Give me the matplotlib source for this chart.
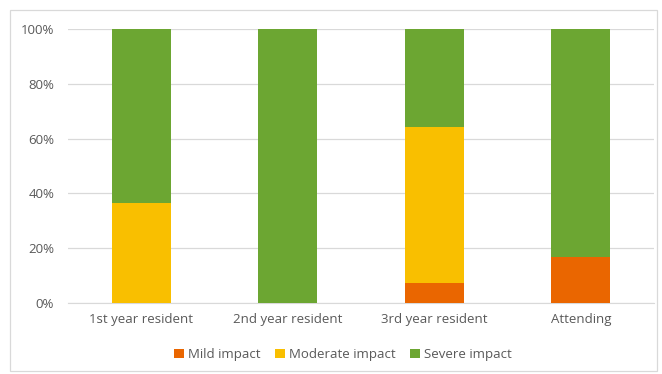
import numpy as np
import matplotlib.pyplot as plt
from matplotlib.patches import Rectangle
from matplotlib.ticker import PercentFormatter

# 데이터
categories = ['1st year resident', '2nd year resident', '3rd year resident', 'Attending']
mild = [0.0, 0.0, 7.1, 16.7]
moderate = [36.4, 0.0, 57.1, 0.0]
severe = [63.6, 100.0, 35.8, 83.3]
series_names = ['Mild impact', 'Moderate impact', 'Severe impact']
colors = ['#EA6600', '#F9BF00', '#6CA632']

plt.rcParams['font.family'] = ['Open Sans', 'DejaVu Sans']
text_color = '#595959'

fig = plt.figure(figsize=(6.62, 3.74), dpi=100)
ax = fig.add_axes([0.1027, 0.19, 0.8853, 0.7325])

x = np.arange(len(categories))
w = 0.4
bottom = np.zeros(len(categories))
for vals, name, c in zip([mild, moderate, severe], series_names, colors):
    vals = np.array(vals)
    ax.bar(x, vals, w, bottom=bottom, color=c, label=name, zorder=3)
    bottom += vals

ax.set_xlim(-0.5, len(categories) - 0.5)
ax.set_ylim(0, 100)
ax.set_yticks(np.arange(0, 101, 20))
ax.yaxis.set_major_formatter(PercentFormatter(decimals=0))
ax.set_xticks(x)
ax.set_xticklabels(categories)
ax.tick_params(length=0, labelsize=9.5, labelcolor=text_color)
ax.tick_params(axis='y', pad=10)
ax.tick_params(axis='x', pad=7)
ax.grid(axis='y', color='#D9D9D9', linewidth=0.9, zorder=0)
for s in ['top', 'right', 'left']:
    ax.spines[s].set_visible(False)
ax.spines['bottom'].set_color('#D9D9D9')

fig.legend(loc='center', bbox_to_anchor=(0.518, 0.052), ncol=3, frameon=False,
           fontsize=9.5, handlelength=0.75, handleheight=0.75, handletextpad=0.3,
           columnspacing=1.1, labelcolor=text_color)

# 바깥 테두리
fig.add_artist(Rectangle((10 / 662, 3 / 374), 647 / 662, 361 / 374,
                         transform=fig.transFigure, fill=False,
                         edgecolor='#D9D9D9', linewidth=0.9))

fig.savefig('out.png', dpi=100)
